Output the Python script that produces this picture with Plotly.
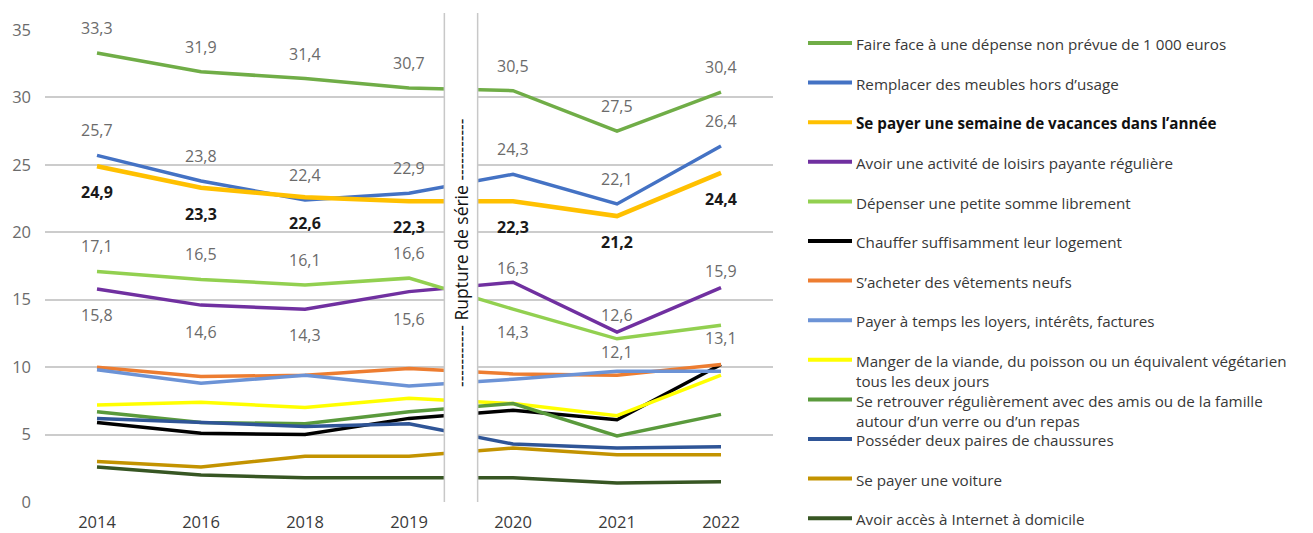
import plotly.graph_objects as go

# Years on the horizontal axis
years = ["2014", "2016", "2018", "2019", "2020", "2021", "2022"]

# Share of households that cannot afford each item (%)
depense_imprevue = [33.3, 31.9, 31.4, 30.7, 30.5, 27.5, 30.4]
meubles = [25.7, 23.8, 22.4, 22.9, 24.3, 22.1, 26.4]
vacances = [24.9, 23.3, 22.6, 22.3, 22.3, 21.2, 24.4]
loisirs = [15.8, 14.6, 14.3, 15.6, 16.3, 12.6, 15.9]
petite_somme = [17.1, 16.5, 16.1, 16.6, 14.3, 12.1, 13.1]
chauffage = [5.9, 5.1, 5.0, 6.2, 6.8, 6.1, 10.2]
vetements = [10.0, 9.3, 9.4, 9.9, 9.5, 9.4, 10.2]
factures = [9.8, 8.8, 9.4, 8.6, 9.1, 9.7, 9.7]
viande = [7.2, 7.4, 7.0, 7.7, 7.3, 6.4, 9.4]
amis = [6.7, 5.9, 5.8, 6.7, 7.3, 4.9, 6.5]
chaussures = [6.2, 5.9, 5.6, 5.8, 4.3, 4.0, 4.1]
voiture = [3.0, 2.6, 3.4, 3.4, 4.0, 3.5, 3.5]
internet = [2.6, 2.0, 1.8, 1.8, 1.8, 1.4, 1.5]

series_names = [
    "Faire face à une dépense non prévue de 1 000 euros",
    "Remplacer des meubles hors d’usage",
    "Se payer une semaine de vacances dans l’année",
    "Avoir une activité de loisirs payante régulière",
    "Dépenser une petite somme librement",
    "Chauffer suffisamment leur logement",
    "S’acheter des vêtements neufs",
    "Payer à temps les loyers, intérêts, factures",
    "Manger de la viande, du poisson ou un équivalent végétarien<br>tous les deux jours",
    "Se retrouver régulièrement avec des amis ou de la famille<br>autour d’un verre ou d’un repas",
    "Posséder deux paires de chaussures",
    "Se payer une voiture",
    "Avoir accès à Internet à domicile",
]
series_values = [
    depense_imprevue, meubles, vacances, loisirs, petite_somme, chauffage,
    vetements, factures, viande, amis, chaussures, voiture, internet,
]

# Styling
colors = [
    "#70AD47", "#4472C4", "#FFC000", "#7030A0", "#92D050", "#000000",
    "#ED7D31", "#6C93D6", "#FFFF00", "#5A9A3C", "#2F5597", "#C39300", "#375623",
]
widths = [3.5, 3.5, 4.5, 3.5, 3.5, 3.5, 3.5, 3.5, 3.5, 3.5, 3.5, 3.5, 3.5]
highlight = 2  # the bold series

# Vertical pixel offset of each value label (positive = above the point)
label_shift = {
    0: [25, 25, 25, 25, 25, 25, 25],
    1: [25, 25, 25, 25, 25, 25, 25],
    2: [-26, -26, -26, -26, -26, -26, -26],
    3: [-26, -27, -26, -27, 14, 17, 17],
    4: [25, 25, 25, 25, -23, -13, -13],
}

FONT = "Open Sans"
W, H = 1313, 533
ML, MR, MT, MB = 45, 540, 30, 31
PW, PH = W - ML - MR, H - MT - MB

xpos = list(range(len(years)))


def px_x(x):
    return (x - ML) / PW


def px_y(y):
    return (H - MB - y) / PH


fig = go.Figure()

for i, (name, vals) in enumerate(zip(series_names, series_values)):
    fig.add_trace(go.Scatter(
        x=xpos, y=vals, mode="lines", name=name.replace("<br>", " "),
        line=dict(color=colors[i], width=widths[i]),
        showlegend=False, hoverinfo="y",
    ))

annotations = []

# Value labels
for i, shifts in label_shift.items():
    bold = i == highlight
    for xp, v, s in zip(xpos, series_values[i], shifts):
        txt = f"{v:.1f}".replace(".", ",")
        annotations.append(dict(
            x=xp, y=v, xref="x", yref="y", text=f"<b>{txt}</b>" if bold else txt,
            showarrow=False, yshift=s,
            font=dict(family=FONT, size=16, color="#1a1a1a" if bold else "#6b6b6b"),
        ))

# Series break between 2019 and 2020
bx0, bx1 = 3.34, 3.66
shapes = [
    dict(type="rect", xref="x", yref="paper", x0=bx0, x1=bx1,
         y0=-0.004, y1=px_y(13), fillcolor="white", line=dict(width=0), layer="above"),
    dict(type="line", xref="x", yref="paper", x0=bx0, x1=bx0,
         y0=0, y1=px_y(13), line=dict(color="#c8c8c8", width=1.5), layer="above"),
    dict(type="line", xref="x", yref="paper", x0=bx1, x1=bx1,
         y0=0, y1=px_y(13), line=dict(color="#c8c8c8", width=1.5), layer="above"),
]
dashes = "-" * 11
annotations.append(dict(
    x=(bx0 + bx1) / 2, y=px_y(253), xref="x", yref="paper", textangle=-90,
    text=f"{dashes} Rupture de série {dashes}", showarrow=False,
    font=dict(family=FONT, size=17.5, color="#111111"),
))

# Legend drawn at the right of the plot
leg_font = 15.2
leg_y0, leg_step = 43, 39.6
line_h = 1.3 * leg_font
for i, name in enumerate(series_names):
    yc = leg_y0 + i * leg_step
    shapes.append(dict(
        type="line", xref="paper", yref="paper", x0=px_x(808), x1=px_x(852),
        y0=px_y(yc), y1=px_y(yc), line=dict(color=colors[i], width=4),
    ))
    annotations.append(dict(
        x=px_x(855), y=px_y(yc - line_h / 2), xref="paper", yref="paper",
        xanchor="left", yanchor="top", align="left", showarrow=False, borderpad=0,
        text=f"<b>{name}</b>" if i == highlight else name,
        font=dict(family=FONT, size=leg_font, color="#111111" if i == highlight else "#383838"),
    ))

fig.update_layout(
    width=W, height=H,
    margin=dict(l=ML, r=MR, t=MT, b=MB, autoexpand=False),
    paper_bgcolor="white", plot_bgcolor="white",
    font=dict(family=FONT, size=16, color="#595959"),
    xaxis=dict(range=[-0.5, len(years) - 0.5], tickvals=xpos, ticktext=years,
               showgrid=False, showline=False, zeroline=False,
               ticks="", tickfont=dict(size=16.5, color="#3a3a3a"), ticklabelstandoff=8),
    yaxis=dict(range=[0, 35], dtick=5, showgrid=True, gridcolor="#cccccc", gridwidth=1.5,
               zeroline=False, showline=False, ticks="",
               tickfont=dict(size=16.5, color="#6b6b6b"), ticklabelstandoff=13),
    shapes=shapes, annotations=annotations, showlegend=False,
)

fig.write_html("out.html")
